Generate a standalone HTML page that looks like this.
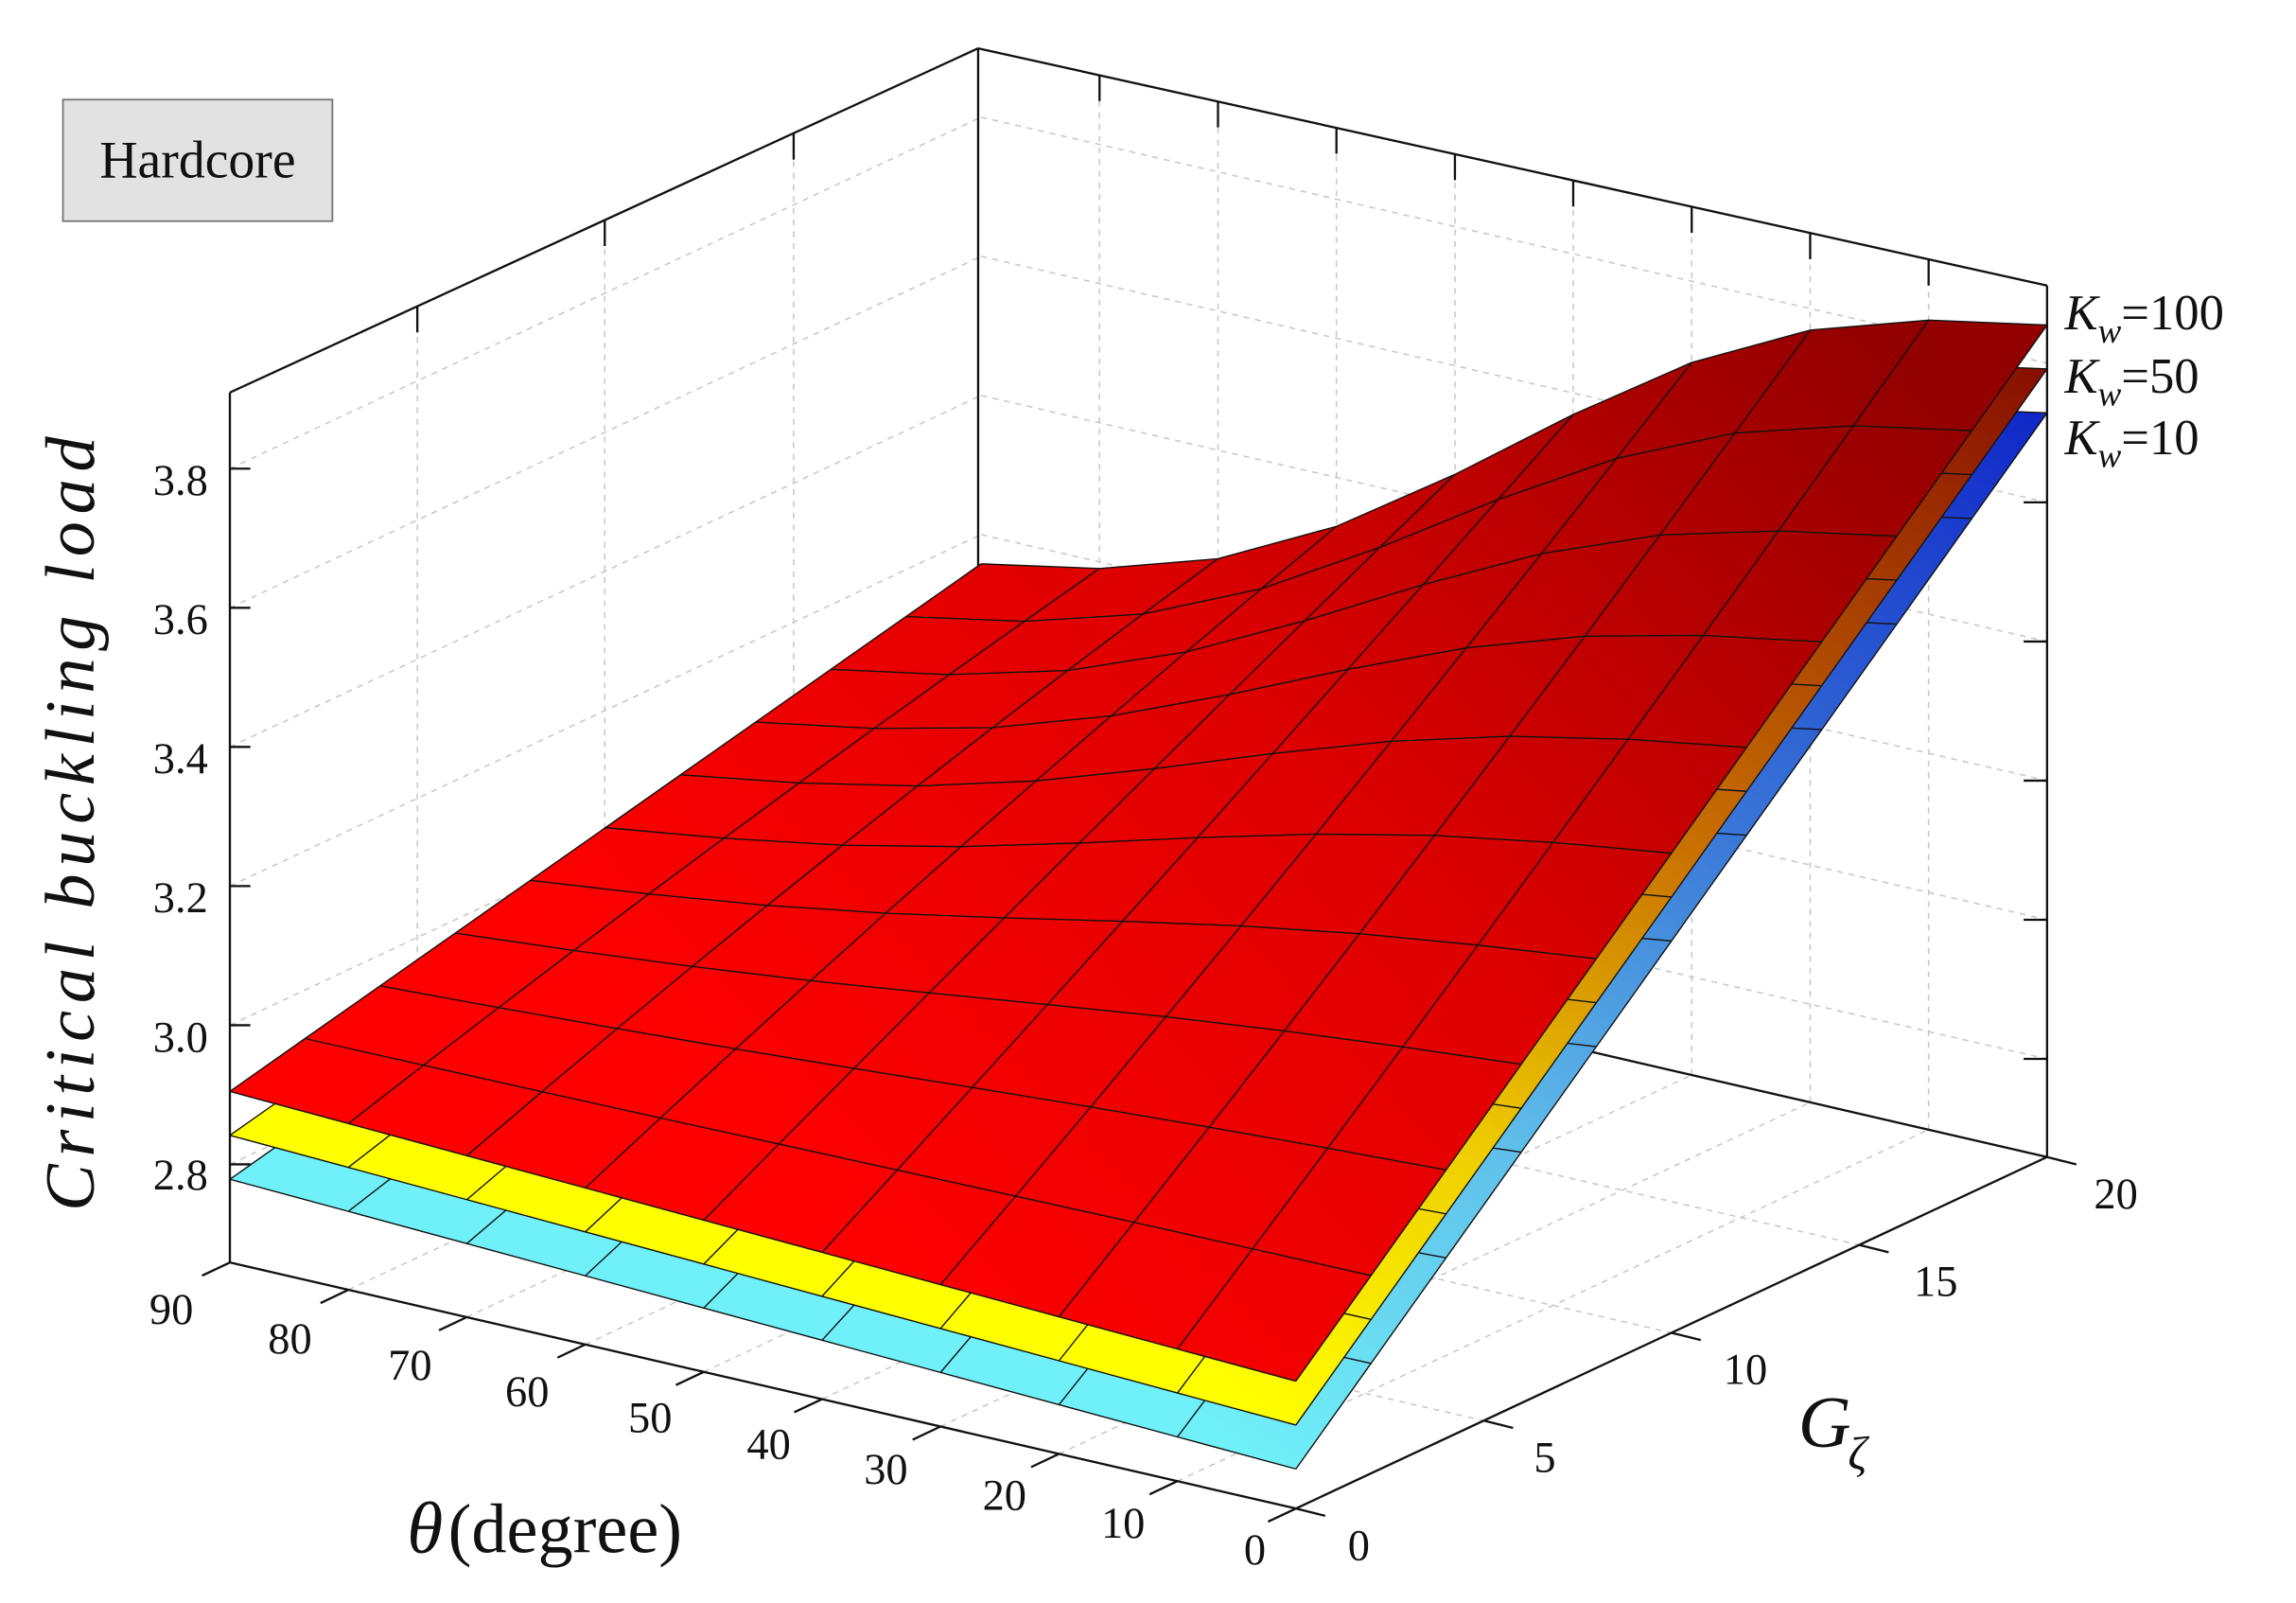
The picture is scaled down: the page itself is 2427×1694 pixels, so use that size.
<!DOCTYPE html>
<html><head><meta charset="utf-8"><style>
html,body{margin:0;padding:0;background:#fff;}
svg{display:block;}
text{font-family:"Liberation Serif","DejaVu Serif",serif;fill:#111;}
</style></head><body>
<svg width="2427" height="1694" viewBox="0 0 1568 1094.5" preserveAspectRatio="none" xmlns="http://www.w3.org/2000/svg" xmlns:xlink="http://www.w3.org/1999/xlink">
<defs>
<linearGradient id="gr" gradientUnits="userSpaceOnUse" x1="600" y1="900" x2="1300" y2="250">
<stop offset="0" stop-color="#ff0000"/><stop offset="0.5" stop-color="#dd0000"/><stop offset="1" stop-color="#930000"/></linearGradient>
<linearGradient id="gy" gradientUnits="userSpaceOnUse" x1="880" y1="950" x2="1398" y2="230">
<stop offset="0" stop-color="#ffff00"/><stop offset="0.25" stop-color="#f0d000"/><stop offset="0.55" stop-color="#c87000"/><stop offset="1" stop-color="#881000"/></linearGradient>
<linearGradient id="gc" gradientUnits="userSpaceOnUse" x1="880" y1="950" x2="1398" y2="230">
<stop offset="0" stop-color="#70f0f8"/><stop offset="0.3" stop-color="#60c0ea"/><stop offset="0.6" stop-color="#3a78d8"/><stop offset="1" stop-color="#1028c8"/></linearGradient>
<polygon id="outl" points="157,745.2 237.9,767.1 318.8,789.1 399.7,811.1 480.6,833.1 561.4,855.1 642.3,877.1 723.2,899.1 804.1,921.1 885,943 936.3,870.9 987.6,798.8 1038.9,726.7 1090.2,654.6 1141.5,582.5 1192.8,510.3 1244.1,438.2 1295.4,366.1 1346.7,294 1398,221.9 1317.1,218.6 1236.2,225.4 1155.3,247.5 1074.4,283 993.6,323.9 912.7,359.4 831.8,381.5 750.9,388.2 670,385 618.7,421 567.4,457 516.1,493 464.8,529 413.5,565.1 362.2,601.1 310.9,637.1 259.6,673.1 208.3,709.1"/>
<g id="mesh" fill="none" stroke="#111" stroke-width="0.9" stroke-linejoin="round">
<polyline points="157,745.2 237.9,767.1 318.8,789.1 399.7,811.1 480.6,833.1 561.4,855.1 642.3,877.1 723.2,899.1 804.1,921.1 885,943"/>
<polyline points="208.3,709.1 289.2,727.3 370.1,745.4 451,763.3 531.9,781.1 612.7,798.9 693.6,816.7 774.5,834.6 855.4,852.7 936.3,870.9"/>
<polyline points="259.6,673.1 340.5,688 421.4,702.3 502.3,716.2 583.2,729.5 664,742.5 744.9,755.8 825.8,769.6 906.7,783.9 987.6,798.8"/>
<polyline points="310.9,637.1 391.8,649 472.7,659.9 553.6,669.6 634.5,677.9 715.3,685.9 796.2,694.2 877.1,703.9 958,714.8 1038.9,726.7"/>
<polyline points="362.2,601.1 443.1,610.4 524,618.2 604.9,623.5 685.8,626.7 766.6,629 847.5,632.2 928.4,637.5 1009.3,645.3 1090.2,654.6"/>
<polyline points="413.5,565.1 494.4,572.3 575.3,577.1 656.2,578.1 737.1,575.6 817.9,571.9 898.8,569.5 979.7,570.4 1060.6,575.2 1141.5,582.5"/>
<polyline points="464.8,529 545.7,534.6 626.6,536.6 707.5,533.2 788.4,524.8 869.2,514.5 950.1,506.1 1031,502.7 1111.9,504.7 1192.8,510.3"/>
<polyline points="516.1,493 597,497.4 677.9,496.8 758.8,488.8 839.7,474.2 920.5,457 1001.4,442.4 1082.3,434.4 1163.2,433.8 1244.1,438.2"/>
<polyline points="567.4,457 648.3,460.6 729.2,457.8 810.1,445.1 891,423.9 971.8,399.2 1052.7,378 1133.6,365.3 1214.5,362.5 1295.4,366.1"/>
<polyline points="618.7,421 699.6,424.2 780.5,419.3 861.4,402 942.3,373.8 1023.1,341.1 1104,313 1184.9,295.6 1265.8,290.7 1346.7,294"/>
<polyline points="670,385 750.9,388.2 831.8,381.5 912.7,359.4 993.6,323.9 1074.4,283 1155.3,247.5 1236.2,225.4 1317.1,218.6 1398,221.9"/>
<polyline points="157,745.2 208.3,709.1 259.6,673.1 310.9,637.1 362.2,601.1 413.5,565.1 464.8,529 516.1,493 567.4,457 618.7,421 670,385"/>
<polyline points="237.9,767.1 289.2,727.3 340.5,688 391.8,649 443.1,610.4 494.4,572.3 545.7,534.6 597,497.4 648.3,460.6 699.6,424.2 750.9,388.2"/>
<polyline points="318.8,789.1 370.1,745.4 421.4,702.3 472.7,659.9 524,618.2 575.3,577.1 626.6,536.6 677.9,496.8 729.2,457.8 780.5,419.3 831.8,381.5"/>
<polyline points="399.7,811.1 451,763.3 502.3,716.2 553.6,669.6 604.9,623.5 656.2,578.1 707.5,533.2 758.8,488.8 810.1,445.1 861.4,402 912.7,359.4"/>
<polyline points="480.6,833.1 531.9,781.1 583.2,729.5 634.5,677.9 685.8,626.7 737.1,575.6 788.4,524.8 839.7,474.2 891,423.9 942.3,373.8 993.6,323.9"/>
<polyline points="561.4,855.1 612.7,798.9 664,742.5 715.3,685.9 766.6,629 817.9,571.9 869.2,514.5 920.5,457 971.8,399.2 1023.1,341.1 1074.4,283"/>
<polyline points="642.3,877.1 693.6,816.7 744.9,755.8 796.2,694.2 847.5,632.2 898.8,569.5 950.1,506.1 1001.4,442.4 1052.7,378 1104,313 1155.3,247.5"/>
<polyline points="723.2,899.1 774.5,834.6 825.8,769.6 877.1,703.9 928.4,637.5 979.7,570.4 1031,502.7 1082.3,434.4 1133.6,365.3 1184.9,295.6 1236.2,225.4"/>
<polyline points="804.1,921.1 855.4,852.7 906.7,783.9 958,714.8 1009.3,645.3 1060.6,575.2 1111.9,504.7 1163.2,433.8 1214.5,362.5 1265.8,290.7 1317.1,218.6"/>
<polyline points="885,943 936.3,870.9 987.6,798.8 1038.9,726.7 1090.2,654.6 1141.5,582.5 1192.8,510.3 1244.1,438.2 1295.4,366.1 1346.7,294 1398,221.9"/>
</g>
</defs>
<rect width="1568" height="1095" fill="#fff"/>
<g stroke="#c8c8c8" stroke-width="1" stroke-dasharray="4,4" fill="none">
<line x1="157" y1="795" x2="670" y2="555"/><line x1="670" y1="555" x2="1398" y2="723"/>
<line x1="157" y1="700" x2="670" y2="460"/><line x1="670" y1="460" x2="1398" y2="628"/>
<line x1="157" y1="605" x2="670" y2="365"/><line x1="670" y1="365" x2="1398" y2="533"/>
<line x1="157" y1="510" x2="670" y2="270"/><line x1="670" y1="270" x2="1398" y2="438"/>
<line x1="157" y1="415" x2="670" y2="175"/><line x1="670" y1="175" x2="1398" y2="343"/>
<line x1="157" y1="320" x2="670" y2="80"/><line x1="670" y1="80" x2="1398" y2="248"/>
<line x1="285" y1="802" x2="285" y2="209"/><line x1="413" y1="742" x2="413" y2="150"/><line x1="542" y1="682" x2="542" y2="91"/>
<line x1="750.9" y1="640.7" x2="750.9" y2="51"/><line x1="831.8" y1="659.3" x2="831.8" y2="68.9"/>
<line x1="912.7" y1="678" x2="912.7" y2="86.9"/><line x1="993.6" y1="696.7" x2="993.6" y2="104.8"/>
<line x1="1074.4" y1="715.3" x2="1074.4" y2="122.7"/><line x1="1155.3" y1="734" x2="1155.3" y2="140.7"/>
<line x1="1236.2" y1="752.7" x2="1236.2" y2="158.6"/><line x1="1317.1" y1="771.3" x2="1317.1" y2="176.6"/>
<line x1="285.3" y1="802" x2="1013.3" y2="970"/><line x1="413.5" y1="742" x2="1141.5" y2="910"/><line x1="541.8" y1="682" x2="1269.8" y2="850"/>
<line x1="237.9" y1="880.7" x2="750.9" y2="640.7"/><line x1="318.8" y1="899.3" x2="831.8" y2="659.3"/>
<line x1="399.7" y1="918" x2="912.7" y2="678"/><line x1="480.6" y1="936.7" x2="993.6" y2="696.7"/>
<line x1="561.4" y1="955.3" x2="1074.4" y2="715.3"/><line x1="642.3" y1="974" x2="1155.3" y2="734"/>
<line x1="723.2" y1="992.7" x2="1236.2" y2="752.7"/><line x1="804.1" y1="1011.3" x2="1317.1" y2="771.3"/>
</g>
<g stroke="#111" stroke-width="1.5" fill="none">
<line x1="668" y1="33" x2="668" y2="622"/>
<line x1="157" y1="268" x2="668" y2="33"/>
<line x1="668" y1="33" x2="1398" y2="195"/>
<line x1="1398" y1="195" x2="1398" y2="790"/>
<line x1="670" y1="622" x2="1398" y2="790"/>
<line x1="285" y1="209" x2="285" y2="227"/><line x1="413" y1="150" x2="413" y2="168"/><line x1="542" y1="91" x2="542" y2="109"/>
<line x1="750.9" y1="51" x2="750.9" y2="69"/><line x1="831.8" y1="68.9" x2="831.8" y2="87"/>
<line x1="912.7" y1="86.9" x2="912.7" y2="105"/><line x1="993.6" y1="104.8" x2="993.6" y2="123"/>
<line x1="1074.4" y1="122.7" x2="1074.4" y2="141"/><line x1="1155.3" y1="140.7" x2="1155.3" y2="159"/>
<line x1="1236.2" y1="158.6" x2="1236.2" y2="177"/><line x1="1317.1" y1="176.6" x2="1317.1" y2="195"/>
<line x1="1398" y1="723" x2="1382" y2="723"/><line x1="1398" y1="628" x2="1382" y2="628"/>
<line x1="1398" y1="533" x2="1382" y2="533"/><line x1="1398" y1="438" x2="1382" y2="438"/>
<line x1="1398" y1="343" x2="1382" y2="343"/>
</g>
<g transform="translate(0,60)"><use xlink:href="#outl" href="#outl" fill="url(#gc)"/><use xlink:href="#mesh" href="#mesh"/></g>
<g transform="translate(0,30)"><use xlink:href="#outl" href="#outl" fill="url(#gy)"/><use xlink:href="#mesh" href="#mesh"/></g>
<g><use xlink:href="#outl" href="#outl" fill="url(#gr)"/><use xlink:href="#mesh" href="#mesh"/></g>
<g stroke="#111" stroke-width="1.5" fill="none">
<line x1="157" y1="268" x2="157" y2="862"/>
<line x1="157" y1="862" x2="885" y2="1030"/>
<line x1="885" y1="1030" x2="1398" y2="790"/>
<line x1="157" y1="795" x2="171" y2="795"/><line x1="157" y1="700" x2="171" y2="700"/>
<line x1="157" y1="605" x2="171" y2="605"/><line x1="157" y1="510" x2="171" y2="510"/>
<line x1="157" y1="415" x2="171" y2="415"/><line x1="157" y1="320" x2="171" y2="320"/>
<line x1="157" y1="862" x2="138" y2="871"/><line x1="237.9" y1="880.7" x2="218.9" y2="889.7"/>
<line x1="318.8" y1="899.3" x2="299.8" y2="908.3"/><line x1="399.7" y1="918" x2="380.7" y2="927"/>
<line x1="480.6" y1="936.7" x2="461.6" y2="945.7"/><line x1="561.4" y1="955.3" x2="542.4" y2="964.3"/>
<line x1="642.3" y1="974" x2="623.3" y2="983"/><line x1="723.2" y1="992.7" x2="704.2" y2="1001.7"/>
<line x1="804.1" y1="1011.3" x2="785.1" y2="1020.3"/><line x1="885" y1="1030" x2="866" y2="1039"/>
<line x1="885" y1="1030" x2="905" y2="1035"/><line x1="1013.3" y1="970" x2="1033.3" y2="975"/>
<line x1="1141.5" y1="910" x2="1161.5" y2="915"/><line x1="1269.8" y1="850" x2="1289.8" y2="855"/>
<line x1="1398" y1="790" x2="1418" y2="795"/>
</g>
<rect x="43" y="68" width="184" height="83" fill="#e2e2e2" stroke="#777" stroke-width="1.2"/>
<text x="135" y="121" font-size="36" text-anchor="middle">Hardcore</text>
<g font-size="30" text-anchor="end">
<text x="142" y="338">3.8</text><text x="142" y="433">3.6</text><text x="142" y="528">3.4</text>
<text x="142" y="623">3.2</text><text x="142" y="718">3.0</text><text x="142" y="812">2.8</text>
</g>
<g font-size="30" text-anchor="middle">
<text x="117" y="904">90</text><text x="198" y="924">80</text><text x="280" y="942">70</text>
<text x="360" y="960">60</text><text x="444" y="978">50</text><text x="525" y="996">40</text>
<text x="605" y="1013">30</text><text x="686" y="1031">20</text><text x="767" y="1050">10</text><text x="857" y="1068">0</text>
<text x="928" y="1065">0</text><text x="1055" y="1005">5</text><text x="1192" y="945">10</text>
<text x="1322" y="885">15</text><text x="1445" y="825">20</text>
</g>
<text transform="translate(64,560) rotate(-90)" font-size="48" font-style="italic" text-anchor="middle" letter-spacing="5">Critical buckling load</text>
<text x="278" y="1060" font-size="50" font-style="italic">θ</text>
<text x="306" y="1060" font-size="48">(degree)</text>
<text x="1228" y="988" font-size="50" font-style="italic">G</text>
<text x="1262" y="1003" font-size="32" font-style="italic">ζ</text>
<g font-size="34">
<text x="1410" y="225"><tspan font-style="italic">K</tspan><tspan font-style="italic" font-size="24" dy="9">w</tspan><tspan dy="-9">=100</tspan></text>
<text x="1410" y="268"><tspan font-style="italic">K</tspan><tspan font-style="italic" font-size="24" dy="9">w</tspan><tspan dy="-9">=50</tspan></text>
<text x="1410" y="310"><tspan font-style="italic">K</tspan><tspan font-style="italic" font-size="24" dy="9">w</tspan><tspan dy="-9">=10</tspan></text>
</g>
</svg>
</body></html>
